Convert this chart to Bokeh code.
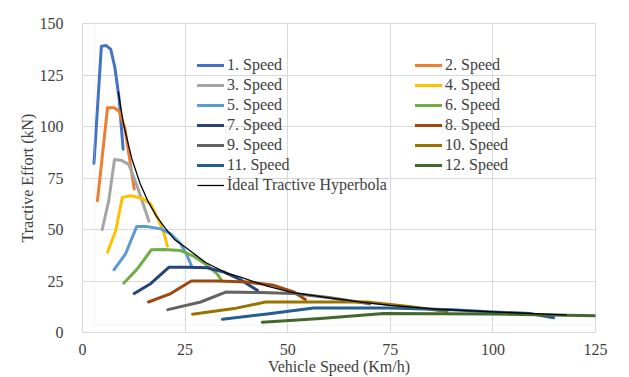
from bokeh.plotting import figure
from bokeh.models import Legend, LegendItem, Range1d, FixedTicker, BoxAnnotation
from bokeh.embed import file_html
from bokeh.resources import INLINE

# ---- data ----
s1_x = [2.8, 4.6, 5.8, 6.9, 7.9, 8.9, 9.9]
s1_y = [82.1, 139.0, 139.3, 137.4, 128.5, 114.0, 89.0]
s2_x = [3.65, 6.1, 7.7, 8.9, 10.3, 11.3, 12.6]
s2_y = [64.0, 109.1, 109.1, 107.5, 99.5, 86.6, 69.7]
s3_x = [4.8, 6.4, 7.8, 9.6, 11.3, 13.4, 15.0, 16.2]
s3_y = [50.0, 64.0, 84.0, 83.5, 81.5, 70.5, 61.0, 54.0]
s4_x = [6.1, 8.1, 9.7, 11.8, 14.6, 16.6, 18.6, 19.9, 20.7]
s4_y = [39.0, 49.5, 65.6, 66.4, 65.1, 62.4, 54.3, 47.9, 41.9]
s5_x = [7.7, 10.5, 13.2, 15.8, 19.1, 21.5, 23.9, 25.5, 26.5]
s5_y = [30.5, 38.2, 51.4, 51.4, 50.3, 47.9, 43.1, 37.4, 32.6]
s6_x = [10.1, 13.4, 16.8, 19.9, 23.9, 27.2, 30.4, 32.8, 33.8]
s6_y = [24.0, 31.0, 40.2, 40.3, 39.8, 36.9, 32.6, 28.5, 25.6]
s7_x = [12.6, 16.6, 21.1, 25.5, 30.4, 34.5, 38.5, 42.6]
s7_y = [18.9, 23.7, 31.7, 31.7, 31.4, 29.3, 25.6, 20.5]
s8_x = [16.1, 21.5, 26.5, 32.9, 40.1, 46.6, 51.5, 54.3]
s8_y = [14.8, 18.9, 25.0, 25.0, 24.5, 22.9, 19.7, 16.0]
s9_x = [20.8, 28.8, 34.9, 43.4, 51.5, 60.0, 70.0]
s9_y = [11.1, 14.8, 19.6, 19.4, 18.9, 17.0, 14.0]
s10_x = [26.8, 36.9, 44.6, 55.0, 69.3, 80.0, 88.8]
s10_y = [8.9, 11.6, 14.8, 14.8, 14.8, 12.5, 10.2]
s11_x = [34.1, 45.0, 56.3, 75.0, 90.0, 100.0, 109.0, 114.8]
s11_y = [6.4, 9.0, 11.9, 11.9, 11.0, 10.0, 9.2, 7.2]
s12_x = [43.8, 58.0, 73.4, 100.0, 124.9]
s12_y = [5.0, 6.8, 9.2, 9.0, 8.1]
ideal_x = [8.7, 10, 12, 14, 16, 18, 20, 22.5, 25, 30, 35, 38.5, 45, 50.7, 60, 70, 75, 87, 100, 110, 118]
ideal_y = [117, 101, 84.5, 72.5, 63.5, 56.5, 51, 45, 41.5, 34, 29, 26.9, 22.5, 19.6, 16.8, 14.3, 13.2, 11.2, 10.0, 9.2, 8.6]

series_names = ["1. Speed", "2. Speed", "3. Speed", "4. Speed", "5. Speed", "6. Speed",
                "7. Speed", "8. Speed", "9. Speed", "10. Speed", "11. Speed", "12. Speed"]
ideal_name = "İdeal Tractive Hyperbola"
x_ticks = [0, 25, 50, 75, 100, 125]
y_ticks = [0, 25, 50, 75, 100, 125, 150]

colors = ["#4472C4", "#ED7D31", "#A5A5A5", "#FFC000", "#5B9BD5", "#70AD47",
          "#264478", "#9E480E", "#636363", "#997300", "#255E91", "#43682B"]

xs = [s1_x, s2_x, s3_x, s4_x, s5_x, s6_x, s7_x, s8_x, s9_x, s10_x, s11_x, s12_x]
ys = [s1_y, s2_y, s3_y, s4_y, s5_y, s6_y, s7_y, s8_y, s9_y, s10_y, s11_y, s12_y]

FONT = "Liberation Serif"
TXT = "#404040"

p = figure(width=629, height=377, output_backend="svg", toolbar_location=None,
           x_range=Range1d(0, 125), y_range=Range1d(0, 150),
           min_border_left=82, min_border_top=23, min_border_right=34, min_border_bottom=45)

p.outline_line_color = "#d9d9d9"
p.background_fill_color = "white"
p.border_fill_color = "white"

for ax in (p.xaxis[0], p.yaxis[0]):
    ax.axis_line_color = None
    ax.major_tick_line_color = None
    ax.minor_tick_line_color = None
    ax.major_label_text_font = FONT
    ax.major_label_text_font_size = "16px"
    ax.major_label_text_color = TXT
    ax.axis_label_text_font = FONT
    ax.axis_label_text_font_size = "16px"
    ax.axis_label_text_font_style = "normal"
    ax.axis_label_text_color = TXT

p.xaxis.ticker = FixedTicker(ticks=x_ticks)
p.yaxis.ticker = FixedTicker(ticks=y_ticks)
p.xaxis.axis_label = "Vehicle Speed (Km/h)"
p.yaxis.axis_label = "Tractive Effort (kN)"
p.xaxis.major_label_standoff = 5
p.yaxis.major_label_standoff = 13
p.xaxis.axis_label_standoff = 0
p.yaxis.axis_label_standoff = 1

p.xgrid.grid_line_color = "#d9d9d9"
p.ygrid.grid_line_color = "#d9d9d9"
p.xgrid.grid_line_width = 1
p.ygrid.grid_line_width = 1

# outer chart-area border (light gray)
p.add_layout(BoxAnnotation(left=12, right=700, top=7, bottom=420,
                           left_units="screen", right_units="screen",
                           top_units="screen", bottom_units="screen",
                           fill_alpha=0, line_color="#d9d9d9", line_width=1,
                           editable=False))

renderers = []
for x, y, c in zip(xs, ys, colors):
    r = p.line(x, y, line_color=c, line_width=3, line_join="round", line_cap="round")
    renderers.append(r)
r_ideal = p.line(ideal_x, ideal_y, line_color="#000000", line_width=1.3, line_join="round")

left_items = [LegendItem(label=series_names[i], renderers=[renderers[i]]) for i in range(0, 12, 2)]
left_items.append(LegendItem(label=ideal_name, renderers=[r_ideal]))
right_items = [LegendItem(label=series_names[i], renderers=[renderers[i]]) for i in range(1, 12, 2)]


def make_legend(items, loc):
    lg = Legend(items=items, location=loc)
    lg.padding = 0
    lg.margin = 0
    lg.spacing = 0
    lg.border_line_color = None
    lg.background_fill_alpha = 0
    lg.glyph_width = 27
    lg.glyph_height = 20
    lg.label_height = 20
    lg.label_standoff = 3
    lg.label_text_font = FONT
    lg.label_text_font_size = "16px"
    lg.label_text_color = TXT
    return lg


p.add_layout(make_legend(left_items, (115, 137)), "center")
p.add_layout(make_legend(right_items, (333, 157)), "center")

open("out.html", "w").write(file_html(p, INLINE))
